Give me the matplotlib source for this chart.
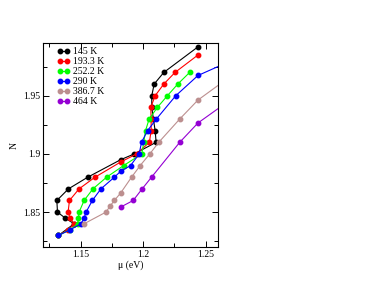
import matplotlib
matplotlib.use("Agg")
from matplotlib import pyplot as plt
from matplotlib.ticker import MultipleLocator

# temperatures shown in the legend
labels = ["145 K", "193.3 K", "252.2 K", "290 K", "386.7 K", "464 K"]
colors = ["black", "red", "#00ff00", "blue", "#bc8f8f", "#9400d3"]

# chemical potential mu (eV) and particle number N for each temperature
mu_145 = [1.1322, 1.1447, 1.1375, 1.1314, 1.1309, 1.1402, 1.1556, 1.1819, 1.1928,
          1.2104, 1.2096, 1.2082, 1.2069, 1.2069, 1.2088, 1.2165, 1.2439]
n_145 = [1.830, 1.840, 1.845, 1.850, 1.860, 1.870, 1.880, 1.895, 1.900,
         1.910, 1.920, 1.930, 1.940, 1.950, 1.960, 1.970, 1.992]

mu_193 = [1.1322, 1.1402, 1.1447, 1.1415, 1.1399, 1.1410, 1.1487, 1.1614, 1.1819, 1.1947,
          1.2050, 1.2064, 1.2064, 1.2061, 1.2096, 1.2165, 1.2255, 1.2439]
n_193 = [1.830, 1.835, 1.840, 1.845, 1.850, 1.860, 1.870, 1.880, 1.893, 1.900,
         1.910, 1.920, 1.930, 1.940, 1.950, 1.960, 1.970, 1.985]

mu_252 = [1.1322, 1.1418, 1.1476, 1.1481, 1.1487, 1.1527, 1.1598, 1.1707, 1.1843, 1.1989,
          1.2005, 1.2019, 1.2048, 1.2114, 1.2194, 1.2277, 1.2372]
n_252 = [1.830, 1.835, 1.840, 1.845, 1.850, 1.860, 1.870, 1.880, 1.890, 1.900,
         1.910, 1.920, 1.930, 1.940, 1.950, 1.960, 1.970]

mu_290 = [1.1322, 1.1418, 1.1503, 1.1527, 1.1543, 1.1593, 1.1662, 1.1769, 1.1819, 1.1899,
          1.1968, 1.1987, 1.2035, 1.2106, 1.2261, 1.2439, 1.2640]
n_290 = [1.830, 1.835, 1.840, 1.845, 1.850, 1.860, 1.870, 1.880, 1.885, 1.890,
         1.900, 1.910, 1.920, 1.930, 1.950, 1.9674, 1.977]

mu_387 = [1.1527, 1.1702, 1.1734, 1.1769, 1.1819, 1.1907, 1.1976, 1.2053, 1.2125,
          1.2293, 1.2439, 1.2640]
n_387 = [1.840, 1.850, 1.855, 1.860, 1.8663, 1.880, 1.890, 1.900, 1.910,
         1.930, 1.9463, 1.962]

mu_464 = [1.1819, 1.1920, 1.1992, 1.2067, 1.2293, 1.2439, 1.2640]
n_464 = [1.8543, 1.860, 1.870, 1.880, 1.910, 1.9266, 1.942]

series = [(mu_145, n_145), (mu_193, n_193), (mu_252, n_252),
          (mu_290, n_290), (mu_387, n_387), (mu_464, n_464)]

plt.rcParams['font.family'] = ['Liberation Serif', 'DejaVu Serif']
plt.rcParams['mathtext.fontset'] = 'stix'

fig = plt.figure(figsize=(3.76, 2.91), dpi=100)
ax = fig.add_axes([0.115, 0.151, 0.465, 0.700])

for (x, y), c, lab in zip(series, colors, labels):
    ax.plot(x, y, color=c, marker='o', markersize=3.2, linewidth=0.8, label=lab)

ax.set_xlim(1.12, 1.26)
ax.set_ylim(1.82, 1.995)
ax.xaxis.set_major_locator(MultipleLocator(0.05))
ax.xaxis.set_minor_locator(MultipleLocator(0.025))
ax.yaxis.set_major_locator(MultipleLocator(0.05))
ax.yaxis.set_minor_locator(MultipleLocator(0.025))
ax.set_xticks([1.15, 1.2, 1.25])
ax.set_xticklabels(["1.15", "1.2", "1.25"])
ax.set_yticks([1.85, 1.9, 1.95])
ax.set_yticklabels(["1.85", "1.9", "1.95"])
ax.tick_params(which='both', direction='in', top=True, right=True, labelsize=7, pad=2)
ax.tick_params(which='major', length=4.5, width=0.7)
ax.tick_params(which='minor', length=3, width=0.7)
for s in ax.spines.values():
    s.set_linewidth(0.8)

ax.set_xlabel("μ (eV)", fontsize=7, labelpad=1)
ax.set_ylabel("N", fontsize=7, labelpad=3)

ax.legend(loc='upper left', bbox_to_anchor=(0.056, 1.0), borderaxespad=0,
          frameon=False, fontsize=7, numpoints=2, handlelength=1.3,
          handletextpad=0.4, labelspacing=0.1)

fig.savefig("out.png", dpi=100)
